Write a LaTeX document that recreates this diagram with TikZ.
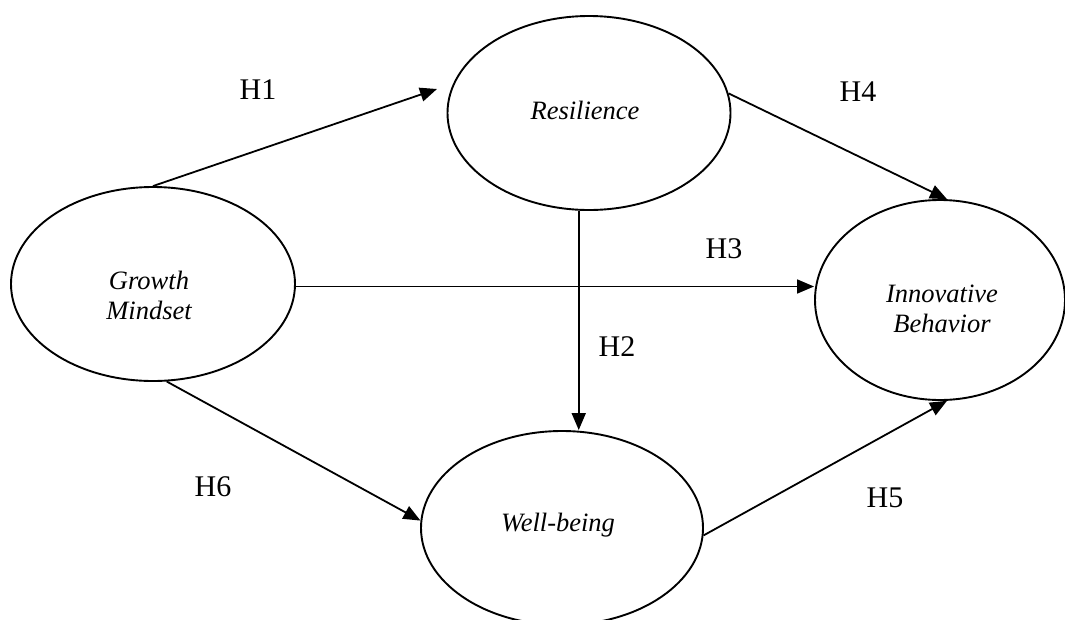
\documentclass[tikz,border=0pt]{standalone}
\usepackage{fontspec}
\setmainfont{Liberation Serif}
\usetikzlibrary{shapes.geometric,arrows.meta,calc}
\tikzset{
  construct/.style={ellipse, draw, line width=1.9pt, inner sep=0pt},
  ctext/.style={font=\fontsize{26.5}{30}\selectfont\itshape, align=center, inner sep=0pt},
  hyp/.style={font=\fontsize{30}{34}\selectfont, inner sep=0pt},
  path/.style={line width=1.8pt, -{Triangle[length=17pt,width=14pt]}}
}
\begin{document}
\begin{tikzpicture}[x=1pt,y=-1pt]
\useasboundingbox (0,0) rectangle (1065,619);
% constructs
\node[construct, minimum width=284pt, minimum height=194pt] (gm) at (153,284) {};
\node[construct, minimum width=283pt, minimum height=194pt] (res) at (589,113) {};
\node[construct, minimum width=250pt, minimum height=200pt] (ib) at (940,300) {};
\node[construct, minimum width=282pt, minimum height=194pt] (wb) at (562,528) {};
% construct texts
\node[ctext] (gmt) at (149,295) {Growth\\Mindset};
\node[ctext] (rest) at (585,110) {Resilience};
\node[ctext] (ibt) at (942,309) {Innovative\\Behavior};
\node[ctext] (wbt) at (558,525) {Well-being};
% connectors
\coordinate (h1end) at (437,89);
\draw[path] (gm.90) -- (h1end);
\draw[path] (res.264) -- (res.264 |- wb.north);
\draw[path] (gm.-1.5) -- (gm.-1.5 -| ib.west);
\draw[path] (res.8.6) -- (ib.86);
\draw[path] (wb.-3) -- (ib.274);
\draw[path] (gm.-82) -- (wb.177);
% hypothesis labels
\node[hyp] (h1) at (258,90) {H1};
\node[hyp] (h2) at (617,347) {H2};
\node[hyp] (h3) at (724,249) {H3};
\node[hyp] (h4) at (858,92) {H4};
\node[hyp] (h5) at (885,498) {H5};
\node[hyp] (h6) at (213,487) {H6};
\end{tikzpicture}
\end{document}
